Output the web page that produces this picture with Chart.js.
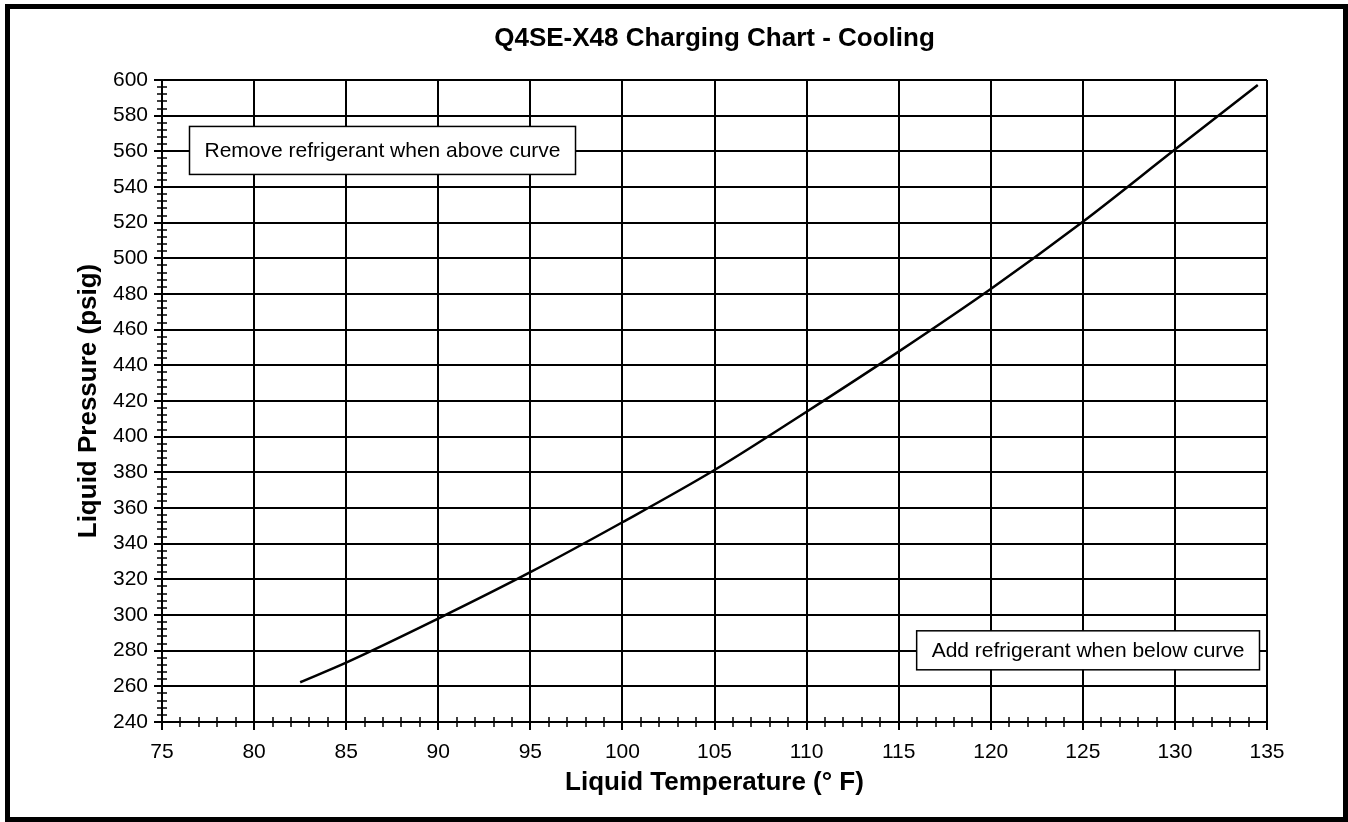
<!DOCTYPE html>
<html>
<head>
<meta charset="utf-8">
<script src="https://cdn.jsdelivr.net/npm/chart.js@4"></script>
<style>
html, body { margin: 0; padding: 0; background: #fff; }
#wrap { position: relative; width: 1348px; height: 822px; }
</style>
</head>
<body>
<div id="wrap"><canvas id="chargingChart" width="1348" height="822"></canvas></div>
<script>
// --- Charging curve data ---
const liquidTemps = [82.5, 85, 90, 95, 100, 105, 110, 115, 120, 125, 130, 134.5];
const liquidPressures = [262.3, 273.3, 298, 324, 352, 381.3, 414, 447.7, 482.8, 520.5, 561, 597.2];

const chartTitle = 'Q4SE-X48 Charging Chart - Cooling';
const xAxisTitle = 'Liquid Temperature (\u00B0 F)';
const yAxisTitle = 'Liquid Pressure (psig)';
const noteLabels = ['Remove refrigerant when above curve', 'Add refrigerant when below curve'];

const FONT = 'Arial, "Liberation Sans", sans-serif';
Chart.defaults.font.family = FONT;
Chart.defaults.color = '#000';

// title over plot area, minor ticks, note boxes, outer frame
const chartExtras = {
    id: 'chartExtras',
    afterDatasetsDraw(chart) {
        const { ctx, scales: { x, y }, chartArea } = chart;
        ctx.save();

        // title (centred on the plot area, not the canvas)
        ctx.fillStyle = '#000';
        ctx.font = 'bold 26px ' + FONT;
        ctx.textAlign = 'center';
        ctx.textBaseline = 'middle';
        ctx.fillText(chartTitle, (chartArea.left + chartArea.right) / 2, 39);

        // minor ticks
        ctx.strokeStyle = '#000';
        ctx.lineWidth = 1.5;
        ctx.beginPath();
        for (let v = 76; v < 135; v++) {
            if (v % 5 === 0) continue;
            const px = Math.round(x.getPixelForValue(v));
            ctx.moveTo(px, chartArea.bottom - 5);
            ctx.lineTo(px, chartArea.bottom + 5);
        }
        for (let v = 244; v < 600; v += 4) {
            if (v % 20 === 0) continue;
            const py = Math.round(y.getPixelForValue(v));
            ctx.moveTo(chartArea.left - 5, py);
            ctx.lineTo(chartArea.left + 5, py);
        }
        ctx.stroke();

        // note boxes
        ctx.font = '21px ' + FONT;
        ctx.textAlign = 'left';
        const drawNote = (text, edge, cy, h, alignRight) => {
            const w = ctx.measureText(text).width + 30;
            const bx = alignRight ? edge - w : edge;
            ctx.fillStyle = '#fff';
            ctx.fillRect(bx, cy - h / 2, w, h);
            ctx.strokeStyle = '#000';
            ctx.lineWidth = 1.5;
            ctx.strokeRect(bx, cy - h / 2, w, h);
            ctx.fillStyle = '#000';
            ctx.fillText(text, bx + 15, cy + 1);
        };
        drawNote(noteLabels[0], Math.round(x.getPixelForValue(76.47)) + 0.5, y.getPixelForValue(560.5), 48, false);
        drawNote(noteLabels[1], Math.round(x.getPixelForValue(134.55)) + 0.5, y.getPixelForValue(280.2), 39, true);

        // outer frame
        ctx.lineWidth = 5;
        ctx.strokeRect(7.5, 6.5, 1338, 813);
        ctx.restore();
    }
};

const ctx = document.getElementById('chargingChart').getContext('2d');
const chart = new Chart(ctx, {
    type: 'scatter',
    data: {
        datasets: [{
            label: 'Charging curve',
            data: liquidTemps.map((t, i) => ({ x: t, y: liquidPressures[i] })),
            showLine: true,
            borderColor: '#000',
            backgroundColor: '#000',
            borderWidth: 2.5,
            pointRadius: 0,
            cubicInterpolationMode: 'monotone'
        }]
    },
    options: {
        responsive: false,
        animation: false,
        devicePixelRatio: 1,
        layout: { padding: { left: 10, right: 81, top: 80, bottom: 10 } },
        scales: {
            x: {
                type: 'linear',
                min: 75, max: 135,
                afterFit: s => { s.height = 90; },
                ticks: { stepSize: 5, maxRotation: 0, autoSkip: false, padding: 10, font: { size: 21 } },
                grid: { color: '#000', lineWidth: 2, tickLength: 8 },
                border: { color: '#000', width: 2 },
                title: { display: true, text: xAxisTitle, font: { size: 26, weight: 'bold' }, padding: { top: 0, bottom: 14 } }
            },
            y: {
                min: 240, max: 600,
                afterFit: s => { s.width = 152; },
                ticks: { stepSize: 20, autoSkip: false, padding: 6, font: { size: 21 } },
                grid: { color: '#000', lineWidth: 2, tickLength: 8 },
                border: { color: '#000', width: 2 },
                title: { display: true, text: yAxisTitle, font: { size: 26, weight: 'bold' }, padding: { top: 63, bottom: 0 } }
            }
        },
        plugins: {
            legend: { display: false },
            tooltip: { enabled: false },
            title: { display: false }
        }
    },
    plugins: [chartExtras]
});
</script>
</body>
</html>
